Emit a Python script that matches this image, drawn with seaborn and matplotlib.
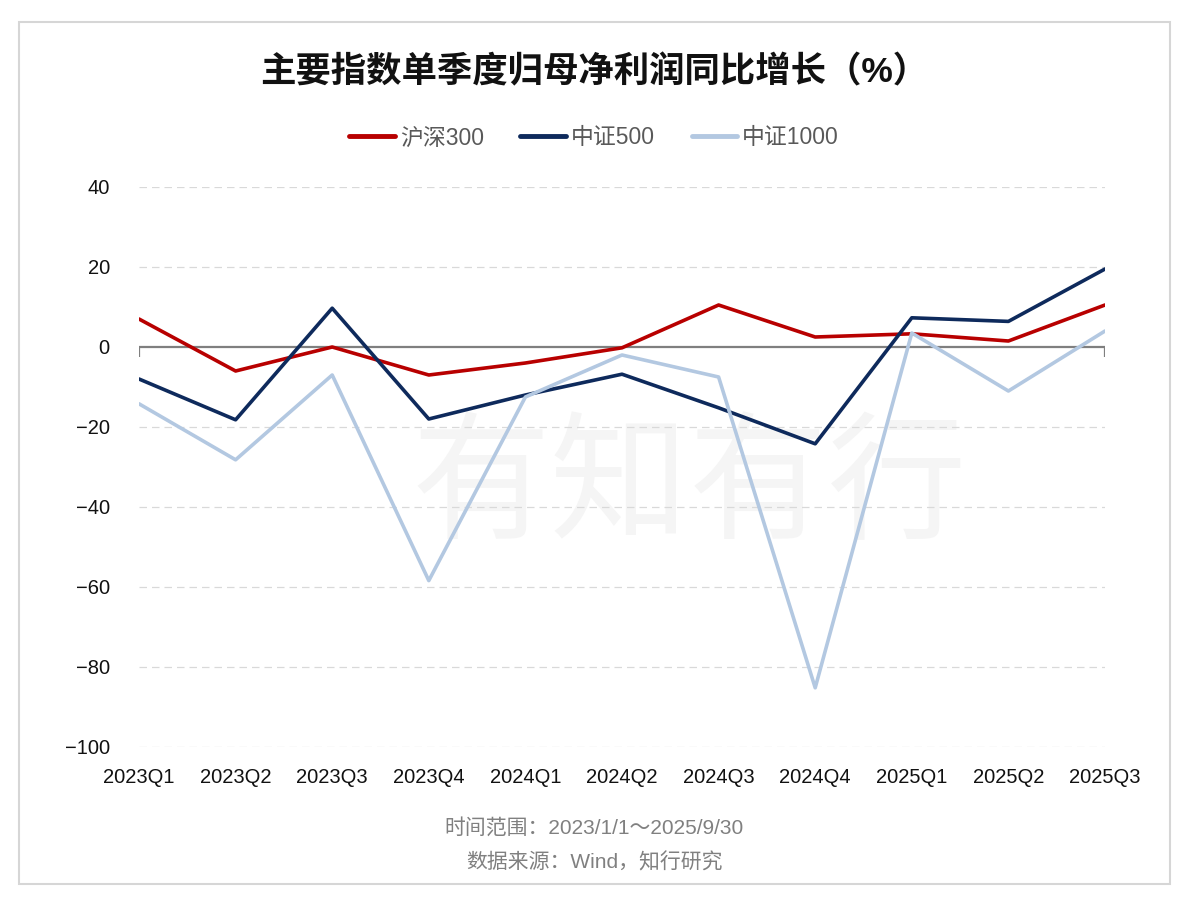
import matplotlib
matplotlib.use("Agg")
import matplotlib.pyplot as plt
import pandas as pd
import seaborn as sns
from matplotlib.patches import Rectangle

quarters = ["2023Q1", "2023Q2", "2023Q3", "2023Q4", "2024Q1", "2024Q2",
            "2024Q3", "2024Q4", "2025Q1", "2025Q2", "2025Q3"]
hs300 = [7.0, -6.0, 0.0, -7.0, -4.0, -0.2, 10.5, 2.5, 3.3, 1.5, 10.5]
zz500 = [-8.0, -18.2, 9.7, -18.0, -12.0, -6.8, -15.2, -24.2, 7.3, 6.4, 19.5]
zz1000 = [-14.2, -28.2, -7.0, -58.4, -12.5, -2.0, -7.5, -85.2, 3.5, -11.0, 4.0]
series_names = ["沪深300", "中证500", "中证1000"]
colors = ["#B80000", "#0E2A5C", "#B3C8E1"]
y_ticks = [40, 20, 0, -20, -40, -60, -80, -100]

rows = []
for name, vals in zip(series_names, [hs300, zz500, zz1000]):
    for i, v in enumerate(vals):
        rows.append({"idx": i, "value": v, "series": name})
df = pd.DataFrame(rows)

sns.set_theme(style="white")
plt.rcParams["font.family"] = ["Liberation Sans", "Noto Sans CJK SC"]

fig = plt.figure(figsize=(11.88, 9.10), dpi=100)
W, H = 1188, 910
ax = fig.add_axes([139 / W, 1 - 747 / H, (1105 - 139) / W, (747 - 187) / H])

# outer frame
fig.patches.append(Rectangle((19 / W, 1 - 884 / H), (1170 - 19) / W, (884 - 22) / H,
                             transform=fig.transFigure, fill=False,
                             edgecolor="#D6D6D6", linewidth=1.5))

# faint watermark behind the lines
ax.text(0.57, 0.46, "有知有行", transform=ax.transAxes, fontsize=100, color="#F5F5F5",
        ha="center", va="center", family=["Noto Sans CJK SC"], zorder=0)

for y in y_ticks:
    if y != 0:
        ax.axhline(y, color="#D9D9D9", linewidth=0.9, linestyle=(0, (6, 4)), zorder=1)
ax.axhline(0, color="#7F7F7F", linewidth=1.6, zorder=2)
ax.vlines([0, len(quarters) - 1], -2.5, 0, color="#7F7F7F", linewidth=1.6, zorder=2)

sns.lineplot(data=df, x="idx", y="value", hue="series", hue_order=series_names,
             palette=colors, linewidth=2.6, ax=ax, legend=False, zorder=3)

ax.set_xlim(0, len(quarters) - 1)
ax.set_ylim(-100, 40)
ax.set_xticks(range(len(quarters)))
ax.set_xticklabels(quarters)
ax.set_yticks(y_ticks)
ax.set_yticklabels([f"{t}".replace("-", "\u2212") for t in y_ticks])
ax.tick_params(axis="both", length=0, labelsize=14.5, colors="#111111")
ax.tick_params(axis="y", pad=21)
ax.tick_params(axis="x", pad=15)
ax.set_xlabel("")
ax.set_ylabel("")
for s in ax.spines.values():
    s.set_visible(False)
ax.patch.set_alpha(0)

fig.text(0.5, 1 - 72 / H, "主要指数单季度归母净利润同比增长（%）", ha="center", va="center",
         fontsize=25.5, fontweight="bold", color="#111111")

handles = [plt.Line2D([], [], color=c, linewidth=3.5) for c in colors]
fig.legend(handles, series_names, loc="center", bbox_to_anchor=(0.5, 1 - 138 / H),
           ncol=3, frameon=False, fontsize=16.5, handlelength=2.0, columnspacing=1.6,
           handletextpad=0.2, labelcolor="#595959")

fig.text(0.5, 1 - 828 / H, "时间范围：2023/1/1～2025/9/30", ha="center", va="center",
         fontsize=15, color="#808080")
fig.text(0.5, 1 - 862 / H, "数据来源：Wind，知行研究", ha="center", va="center",
         fontsize=15, color="#808080")

fig.savefig("out.png", dpi=100)
